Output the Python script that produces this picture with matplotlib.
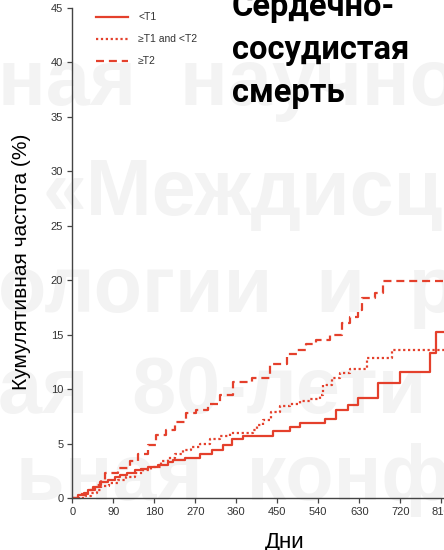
import matplotlib
matplotlib.use("Agg")
import matplotlib.pyplot as plt

# step curves (days, cumulative %)
days_low = [0, 12, 25, 34, 45, 60, 78, 93, 105, 119, 137, 150, 166, 188, 210, 220,
            247, 280, 306, 331, 350, 375, 441, 478, 500, 555, 580, 606, 628, 672,
            719, 785, 798, 816]
pct_low = [0, 0.3, 0.5, 0.75, 1.0, 1.5, 1.7, 2.0, 2.1, 2.3, 2.6, 2.7, 2.9, 3.1, 3.3, 3.5,
           3.7, 4.1, 4.4, 4.9, 5.4, 5.7, 6.2, 6.5, 6.9, 7.3, 8.1, 8.6, 9.2, 10.6,
           11.6, 13.3, 15.3, 15.3]

days_mid = [0, 27, 40, 55, 64, 80, 100, 118, 137, 155, 173, 195, 210, 225, 243, 261,
            280, 302, 325, 346, 397, 405, 419, 437, 456, 478, 500, 522, 544, 551,
            570, 588, 610, 646, 701, 816]
pct_mid = [0, 0.2, 0.5, 0.8, 1.1, 1.4, 1.7, 2.0, 2.3, 2.6, 2.9, 3.4, 3.7, 4.1, 4.4, 4.7,
           5.0, 5.4, 5.7, 6.0, 6.3, 6.7, 7.2, 7.9, 8.5, 8.7, 8.9, 9.1, 9.5, 10.4,
           11.0, 11.5, 11.9, 12.9, 13.6, 13.6]

days_high = [0, 15, 34, 50, 64, 71, 100, 126, 144, 166, 184, 206, 225, 250, 272, 299,
             324, 353, 394, 434, 471, 493, 514, 535, 566, 591, 610, 628, 635, 664,
             683, 816]
pct_high = [0, 0.4, 0.8, 1.2, 1.7, 2.3, 2.8, 3.4, 4.1, 4.9, 5.8, 6.3, 7.0, 7.8, 8.1, 8.7,
            9.5, 10.7, 11.0, 12.3, 13.2, 13.6, 14.2, 14.5, 15.0, 16.1, 16.6, 17.3, 18.4, 18.8,
            19.9, 19.9]

labels = ["<T1", "\u2265T1 and <T2", "\u2265T2"]
x_ticks = [0, 90, 180, 270, 360, 450, 540, 630, 720, 810]
y_ticks = [0, 5, 10, 15, 20, 25, 30, 35, 40, 45]

watermark = ["ная  научно", "«Междисц", "ологии  и  р", "ая  80-лети", "ьная  конф"]
wm_pos = [(-0.005, 105), (0.095, 215), (-0.005, 312), (-0.005, 413), (0.035, 500)]

red = "#e4402c"
sans = ["Liberation Sans", "DejaVu Sans"]
bold_title = ["Roboto", "DejaVu Sans"]

fig = plt.figure(figsize=(4.44, 5.5), dpi=100)
fig.patch.set_facecolor("white")

# faint background watermark
for txt, (x, ypx) in zip(watermark, wm_pos):
    fig.text(x, 1 - ypx / 550, txt, fontsize=57, fontweight="bold", color="#f3f3f3",
             family=sans, va="baseline", ha="left", zorder=-5)

ax = fig.add_axes([72.3 / 444, 51.7 / 550, 1 - 72.3 / 444, 490.3 / 550])
ax.patch.set_alpha(0)

ax.plot(days_low, pct_low, drawstyle="steps-post", color=red, lw=1.6, label=labels[0])
ax.plot(days_mid, pct_mid, drawstyle="steps-post", color=red, lw=1.6,
        linestyle=(0, (1.0, 1.2)), label=labels[1])
ax.plot(days_high, pct_high, drawstyle="steps-post", color=red, lw=1.6,
        linestyle=(0, (3.6, 2.2)), label=labels[2])

ax.set_xlim(0, 816)
ax.set_ylim(0, 45)
ax.set_xticks(x_ticks)
ax.set_yticks(y_ticks)
for s in ["top", "right"]:
    ax.spines[s].set_visible(False)
for s in ["left", "bottom"]:
    ax.spines[s].set_color("#444444")
    ax.spines[s].set_linewidth(1.0)
ax.tick_params(direction="out", length=3.5, width=0.9, color="#444444",
               labelcolor="#333333", labelsize=8, pad=3)
for lab in ax.get_xticklabels() + ax.get_yticklabels():
    lab.set_family(sans)

leg = ax.legend(loc="upper left", bbox_to_anchor=(87 / 444, 1 - 3 / 550),
                bbox_transform=fig.transFigure, frameon=False, handlelength=3.0,
                handletextpad=1.0, labelspacing=1.15, prop={"family": sans, "size": 7.5})
for t in leg.get_texts():
    t.set_color("#333333")

fig.text(22 / 444, 1 - 262 / 550, "Кумулятивная частота (%)", rotation=90,
         fontsize=15, family=sans, ha="center", va="center")
fig.text(285 / 444, 1 - 548 / 550, "Дни", fontsize=16, family=sans,
         ha="center", va="baseline")

title_lines = ["Сердечно-", "сосудистая", "смерть"]
for i, line in enumerate(title_lines):
    fig.text(232 / 444, 1 - (16 + 43 * i) / 550, line, fontsize=23.5, fontweight="bold",
             family=bold_title, ha="left", va="baseline")

fig.savefig("out.png", dpi=100)
